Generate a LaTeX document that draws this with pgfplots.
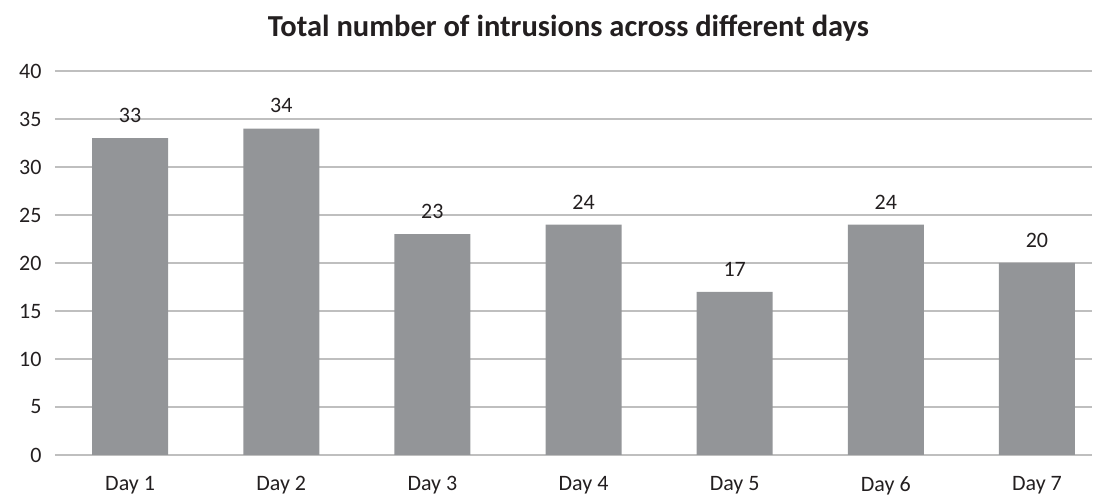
\documentclass[border=0pt]{standalone}
\usepackage{pgfplots}
\pgfplotsset{compat=1.18}
\usepackage{fontspec}
\setmainfont{Carlito}
\definecolor{barc}{HTML}{939598}
\definecolor{gridc}{HTML}{BFBFBF}
\definecolor{txt}{HTML}{231F20}
\begin{document}
\begin{tikzpicture}[x=1pt,y=1pt]
\path[use as bounding box] (0,0) rectangle (1102,497);
\begin{axis}[
  at={(55pt,42pt)}, anchor=south west,
  scale only axis, width=1037pt, height=384pt,
  xmin=-0.497, xmax=6.364, ymin=0, ymax=40,
  ytick={0,5,...,40},
  xtick={0,...,6},
  xticklabels={Day 1,Day 2,Day 3,Day 4,Day 5,Day 6,Day 7},
  axis line style={draw=none},
  major tick length=0pt,
  ymajorgrids, grid style={gridc, line width=1.5pt},
  tick label style={font=\fontsize{22}{26}\selectfont, text=txt},
  /pgf/number format/assume math mode=true,
  yticklabel style={xshift=-10pt},
  xticklabel style={yshift=-18pt},
  title={\fontsize{30.5}{34}\selectfont\bfseries Total number of intrusions across different days},
  title style={text=txt, at={(0.5,1)}, yshift=20pt, xshift=-5pt},
  clip=false,
  nodes near coords,
  nodes near coords style={font=\fontsize{22}{26}\selectfont, text=txt, yshift=12pt},
]
\addplot[ybar, bar width=76pt, fill=barc, draw=none] coordinates {
(0,33) (1,34) (2,23) (3,24) (4,17) (5,24) (6,20)};
\end{axis}
\end{tikzpicture}
\end{document}
